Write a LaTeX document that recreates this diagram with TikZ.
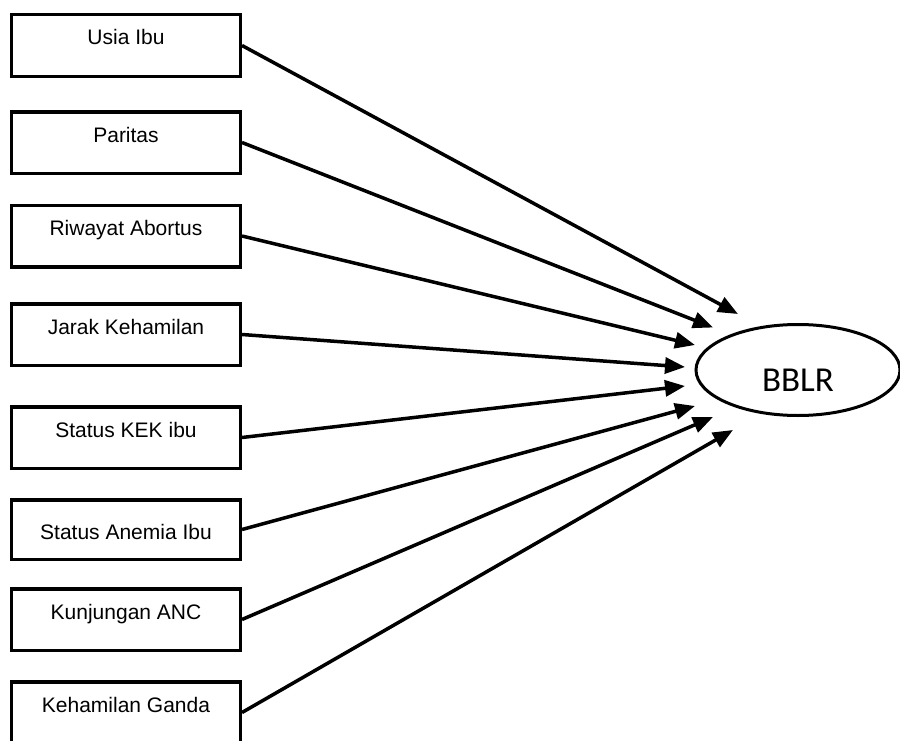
\documentclass[tikz,border=0pt]{standalone}
\usepackage{fontspec}
\setmainfont{Liberation Sans}
\newfontfamily\outfont{Carlito}
\usepackage{tikz}
\usetikzlibrary{arrows.meta,positioning,shapes.geometric}

\begin{document}
\begin{tikzpicture}[x=1bp, y=-1bp,
  factor/.style={draw, line width=3.5bp, minimum width=228.5bp, minimum height=61.5bp,
    inner xsep=0pt, inner ysep=0pt, text height=15bp, text depth=16bp, align=center,
    font=\fontsize{21bp}{24bp}\selectfont},
  outcome/.style={draw, ellipse, line width=3bp, minimum width=204bp, minimum height=91bp,
    inner sep=0pt, text height=42bp, text depth=0pt, font=\outfont\fontsize{35bp}{40bp}\selectfont},
  arr/.style={line width=3.5bp, -{Triangle[length=20bp, width=16bp]}},
]
  \useasboundingbox (0,0) rectangle (900,741);
  \clip (0,0) rectangle (900,741);

  % Risk factors, stacked on the left.
  \node[factor] (usia)    at (126,45.5)  {Usia Ibu};
  \node[factor] (paritas) at (126,142.5) {Paritas};
  \node[factor] (abortus) at (126,236)   {Riwayat Abortus};
  \node[factor] (jarak)   at (126,334.5) {Jarak Kehamilan};
  \node[factor] (kek)     at (126,437.5) {Status KEK ibu};
  \node[factor, minimum height=59.5bp, text height=22bp, text depth=3bp]
                (anemia)  at (126,529.5) {Status Anemia Ibu};
  \node[factor] (anc)     at (126,619.5) {Kunjungan ANC};
  \node[factor] (ganda)   at (126,712.5) {Kehamilan Ganda};

  % Outcome.
  \node[outcome] (bblr) at (798,370) {BBLR};

  % Arrow tips, fanned round the left side of the ellipse.
  \coordinate (tUsia)    at (738,314);
  \coordinate (tParitas) at (713,327.5);
  \coordinate (tAbortus) at (695,345);
  \coordinate (tJarak)   at (685,367);
  \coordinate (tKek)     at (685,386);
  \coordinate (tAnemia)  at (695,406);
  \coordinate (tAnc)     at (713,417);
  \coordinate (tGanda)   at (733,430);

  \foreach \src/\tip in {usia/tUsia, paritas/tParitas, abortus/tAbortus, jarak/tJarak,
                         kek/tKek, anemia/tAnemia, anc/tAnc, ganda/tGanda}
    \draw[arr] (\src.east) -- (\tip);
\end{tikzpicture}
\end{document}
